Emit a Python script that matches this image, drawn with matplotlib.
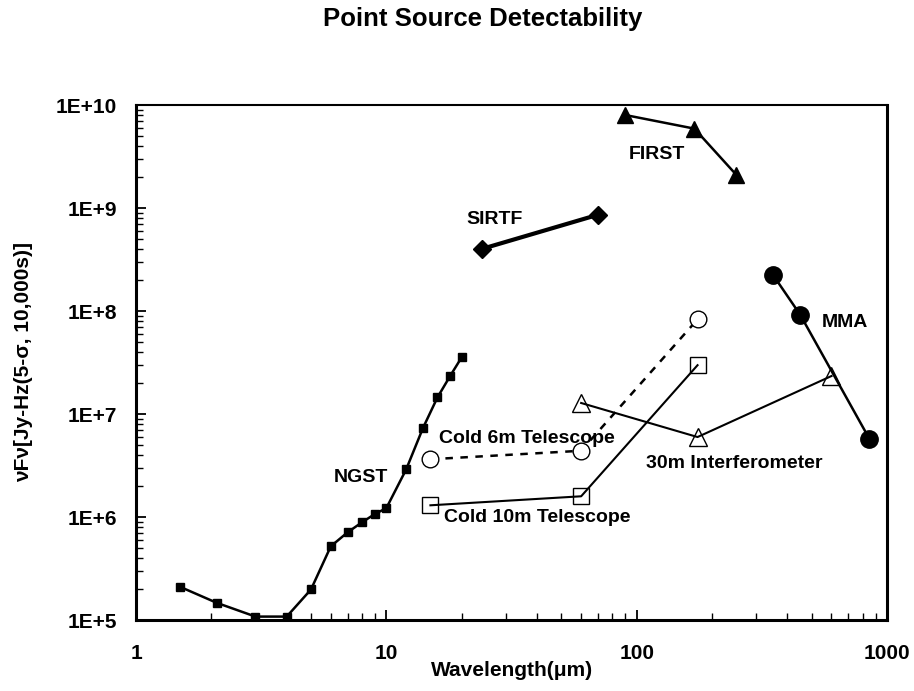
import numpy as np
import matplotlib.pyplot as plt
from matplotlib.ticker import LogLocator, NullFormatter

plt.rcParams['font.family'] = ['Liberation Sans', 'DejaVu Sans']

# NGST
ngst_x = [1.5, 2.1, 3, 4, 5, 6, 7, 8, 9, 10, 12, 14, 16, 18, 20]
ngst_y = [2.1e5, 1.47e5, 1.08e5, 1.08e5, 1.98e5, 5.2e5, 7.1e5, 8.9e5, 1.07e6, 1.22e6,
          2.9e6, 7.3e6, 1.45e7, 2.35e7, 3.56e7]

# SIRTF
sirtf_x = [24, 70]
sirtf_y = [4.0e8, 8.6e8]

# FIRST
first_x = [90, 170, 250]
first_y = [8.0e9, 5.9e9, 2.1e9]

# MMA
mma_x = [350, 450, 850]
mma_y = [2.25e8, 9.2e7, 5.75e6]

# Cold 6m Telescope
c6_x = [15, 60, 175]
c6_y = [3.64e6, 4.4e6, 8.3e7]

# Cold 10m Telescope
c10_x = [15, 60, 175]
c10_y = [1.30e6, 1.59e6, 2.98e7]

# 30m Interferometer
i30_x = [60, 175, 600]
i30_y = [1.28e7, 5.98e6, 2.34e7]

yticks = [1e5, 1e6, 1e7, 1e8, 1e9, 1e10]
ytick_labels = ['1E+5', '1E+6', '1E+7', '1E+8', '1E+9', '1E+10']
xticks = [1, 10, 100, 1000]
xtick_labels = ['1', '10', '100', '1000']

fig = plt.figure(figsize=(9.14, 6.91), dpi=100)
ax = fig.add_axes([0.1488, 0.1027, 0.8217, 0.7453])

ax.plot(ngst_x, ngst_y, color='black', lw=1.8, marker='s', ms=6)
ax.plot(sirtf_x, sirtf_y, color='black', lw=3, marker='D', ms=9)
ax.plot(first_x, first_y, color='black', lw=1.8, marker='^', ms=12)
ax.plot(mma_x, mma_y, color='black', lw=1.8, marker='o', ms=12.5)
ax.plot(c6_x, c6_y, color='black', lw=1.8, ls=(0, (3, 3)), marker='o', ms=12,
        mfc='white', mec='black', mew=1)
ax.plot(c10_x, c10_y, color='black', lw=1.5, marker='s', ms=12,
        mfc='none', mec='black', mew=1)
ax.plot(i30_x, i30_y, color='black', lw=1.5, marker='^', ms=13,
        mfc='none', mec='black', mew=1)

lab = dict(fontsize=14, fontweight='bold', ha='center', va='center')
ax.text(7.9, 2.4e6, 'NGST', **lab)
ax.text(27, 7.8e8, 'SIRTF', **lab)
ax.text(121, 3.3e9, 'FIRST', **lab)
ax.text(680, 7.8e7, 'MMA', **lab)
ax.text(36.5, 5.75e6, 'Cold 6m Telescope', **lab)
ax.text(245, 3.3e6, '30m Interferometer', **lab)
ax.text(40, 9.85e5, 'Cold 10m Telescope', **lab)

ax.set_xscale('log')
ax.set_yscale('log')
ax.set_xlim(1, 1000)
ax.set_ylim(1e5, 1e10)

ax.set_yticks(yticks)
ax.set_yticklabels(ytick_labels)
ax.set_xticks(xticks)
ax.set_xticklabels(xtick_labels)
ax.yaxis.set_minor_locator(LogLocator(base=10, subs=np.arange(2, 10)))
ax.xaxis.set_minor_locator(LogLocator(base=10, subs=np.arange(2, 10)))
ax.yaxis.set_minor_formatter(NullFormatter())
ax.xaxis.set_minor_formatter(NullFormatter())
ax.tick_params(which='major', direction='in', length=7, width=1.3, labelsize=15)
ax.tick_params(which='minor', direction='in', length=5, width=1)
ax.tick_params(axis='x', which='major', pad=17)
ax.tick_params(axis='y', which='major', pad=13.5)
for t in ax.get_xticklabels() + ax.get_yticklabels():
    t.set_fontweight('bold')

for s in ax.spines.values():
    s.set_linewidth(1.5)
ax.spines['left'].set_linewidth(2.2)
ax.spines['bottom'].set_linewidth(2.2)
ax.spines['right'].set_linewidth(2.2)

fig.text(0.560, 0.029, 'Wavelength(μm)', fontsize=15, fontweight='bold',
         ha='center', va='center')
fig.text(0.026, 0.476, 'νFν[Jy-Hz(5-σ, 10,000s)]', fontsize=15, fontweight='bold',
         ha='center', va='center', rotation=90)
fig.text(0.528, 0.972, 'Point Source Detectability', fontsize=18.5, fontweight='bold',
         ha='center', va='center')

fig.savefig('out.png', dpi=100)
